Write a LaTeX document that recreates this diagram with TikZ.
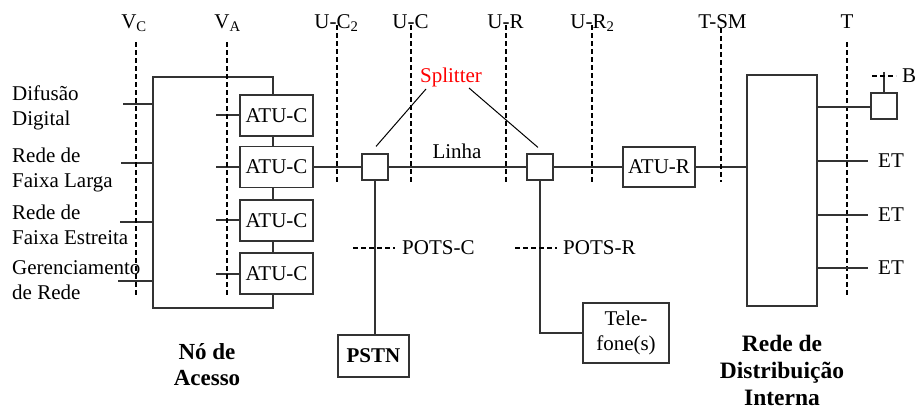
\documentclass[tikz,border=0pt]{standalone}
\usepackage{fontspec}
\setmainfont{Liberation Serif}
\begin{document}
\begin{tikzpicture}[x=1pt,y=-1pt,
  every node/.style={font=\fontsize{21}{25}\selectfont, inner sep=0pt},
  ln/.style={draw=black!80, line width=1.1pt},
  dsh/.style={draw=black, line width=1.8pt, dash pattern=on 5pt off 3pt},
  blk/.style={draw=black!80, line width=1.1pt, fill=white, inner sep=0pt},
  lbl/.style={anchor=base},
  side/.style={anchor=north west, align=left},
  boldlbl/.style={font=\fontsize{23.5}{27}\selectfont\bfseries, align=center}
]
\useasboundingbox (0,0) rectangle (922,410);

% access node frame
\node[blk, fill=none, minimum width=120pt, minimum height=231pt] (acc) at (213,192.5) {};

% reference-point dashed lines
\coordinate (vct) at (136,42);  \coordinate (vcb) at (136,297);
\coordinate (vat) at (227,42);  \coordinate (vab) at (227,297);
\coordinate (uc2t) at (337,25); \coordinate (uc2b) at (337,182);
\coordinate (uct) at (411,25);  \coordinate (ucb) at (411,182);
\coordinate (urt) at (506,25);  \coordinate (urb) at (506,182);
\coordinate (ur2t) at (592,25); \coordinate (ur2b) at (592,182);
\coordinate (tsmt) at (721,28); \coordinate (tsmb) at (721,182);
\coordinate (tt) at (847,42);   \coordinate (tb) at (847,297);

\node[lbl] (lvc) at (134,28) {V\textsubscript{C}};
\node[lbl] (lva) at (227.5,28) {V\textsubscript{A}};
\node[lbl] (luc2) at (336.5,28) {U-C\textsubscript{2}};
\node[lbl] (luc) at (410.5,28) {U-C};
\node[lbl] (lur) at (505.5,28) {U-R};
\node[lbl] (lur2) at (592.5,28) {U-R\textsubscript{2}};
\node[lbl] (ltsm) at (722.5,28) {T-SM};
\node[lbl] (lt) at (847,28) {T};

% left service texts and lines
\node[side] (s1) at (12,85.7) {Difusão\\Digital};
\node[side] (s2) at (12,147.7) {Rede de\\Faixa Larga};
\node[side] (s3) at (12,204.7) {Rede de\\Faixa Estreita};
\node[side] (s4) at (12,260.7) {Gerenciamento\\de Rede};
\coordinate (s1e) at (123,104);
\coordinate (s2e) at (121,163);
\coordinate (s3e) at (120,222);
\coordinate (s4e) at (118,281);
\draw[ln] (s1e) -- (s1e -| acc.west);
\draw[ln] (s2e) -- (s2e -| acc.west);
\draw[ln] (s3e) -- (s3e -| acc.west);
\draw[ln] (s4e) -- (s4e -| acc.west);

% ATU-C boxes
\node[blk, minimum width=73pt, minimum height=41pt] (atu1) at (276.5,115.5) {ATU-C};
\node[blk, minimum width=73pt, minimum height=41pt] (atu2) at (276.5,167) {ATU-C};
\node[blk, minimum width=73pt, minimum height=41pt] (atu3) at (276.5,220.5) {ATU-C};
\node[blk, minimum width=73pt, minimum height=41pt] (atu4) at (276.5,273.5) {ATU-C};
\coordinate (a1w) at (216,115);
\coordinate (a2w) at (216,167);
\coordinate (a3w) at (216,220);
\coordinate (a4w) at (216,274);
\draw[ln] (a1w) -- (a1w -| atu1.west);
\draw[ln] (a2w) -- (a2w -| atu2.west);
\draw[ln] (a3w) -- (a3w -| atu3.west);
\draw[ln] (a4w) -- (a4w -| atu4.west);

% splitters and line
\node[blk, minimum size=26pt] (sp1) at (375,167) {};
\node[blk, minimum size=26pt] (sp2) at (540,167) {};
\node[blk, minimum width=72pt, minimum height=40pt] (atur) at (659,167) {ATU-R};
\node[blk, fill=none, minimum width=70pt, minimum height=231pt] (rdi) at (782,190.5) {};
\draw[ln] (atu2.east) -- (sp1.west);
\draw[ln] (sp1.east) -- (sp2.west);
\draw[ln] (sp2.east) -- (atur.west);
\draw[ln] (atur.east) -- (atur.east -| rdi.west);

\node[text=red] (splt) at (451,77) {Splitter};
\coordinate (sl1) at (426,89);
\coordinate (sl2) at (469,88);
\draw[line width=1pt] (sl1) -- ([xshift=1pt,yshift=7pt]sp1.north);
\draw[line width=1pt] (sl2) -- ([xshift=-2pt,yshift=6pt]sp2.north);
\node (linha) at (457,151) {Linha};

% POTS side
\node[blk, minimum width=71pt, minimum height=42pt, font=\fontsize{21}{25}\selectfont\bfseries] (pstn) at (373.5,356) {PSTN};
\node[blk, minimum width=86pt, minimum height=60pt, align=center] (tel) at (626,333) {Tele-\\fone(s)};
\draw[ln] (sp1.south) -- (sp1.south |- pstn.north);
\draw[ln] (sp2.south) |- (tel.west);
\coordinate (pcl) at (353,248); \coordinate (pcr) at (395,248);
\coordinate (prl) at (515,248); \coordinate (prr) at (557,248);
\draw[dsh] (pcl) -- (pcr);
\draw[dsh] (prl) -- (prr);
\node[anchor=west] (potsc) at (402,248) {POTS-C};
\node[anchor=west] (potsr) at (563,248) {POTS-R};

% dashed reference lines
\draw[dsh] (vct) -- (vcb);
\draw[dsh] (vat) -- (vab);
\draw[dsh] (uc2t) -- (uc2b);
\draw[dsh] (uct) -- (ucb);
\draw[dsh] (urt) -- (urb);
\draw[dsh] (ur2t) -- (ur2b);
\draw[dsh] (tsmt) -- (tsmb);
\draw[dsh] (tt) -- (tb);

% premises side
\node[blk, minimum width=26pt, minimum height=26pt] (bt) at (884,106) {};
\coordinate (bl) at (871,107);
\draw[ln] (bl -| rdi.east) -- (bl -| bt.west);
\coordinate (btop) at (884,72);
\draw[ln] (bt.north) -- (btop);
\coordinate (bdl) at (872,76); \coordinate (bdr) at (896,76);
\draw[dsh] (bdl) -- (bdr);
\node[anchor=west] (lb) at (902,76) {B};
\node[anchor=west] (et1) at (878,161) {ET};
\node[anchor=west] (et2) at (878,215) {ET};
\node[anchor=west] (et3) at (878,268) {ET};
\coordinate (e1) at (868,161);
\coordinate (e2) at (868,215);
\coordinate (e3) at (868,268);
\draw[ln] (e1 -| rdi.east) -- (e1);
\draw[ln] (e2 -| rdi.east) -- (e2);
\draw[ln] (e3 -| rdi.east) -- (e3);

% bold captions
\node[boldlbl, font=\fontsize{23}{25.5}\selectfont\bfseries] (capacc) at (207,364.5) {Nó de\\Acesso};
\node[boldlbl] (caprdi) at (782,370.5) {Rede de\\Distribuição\\Interna};
\end{tikzpicture}
\end{document}
